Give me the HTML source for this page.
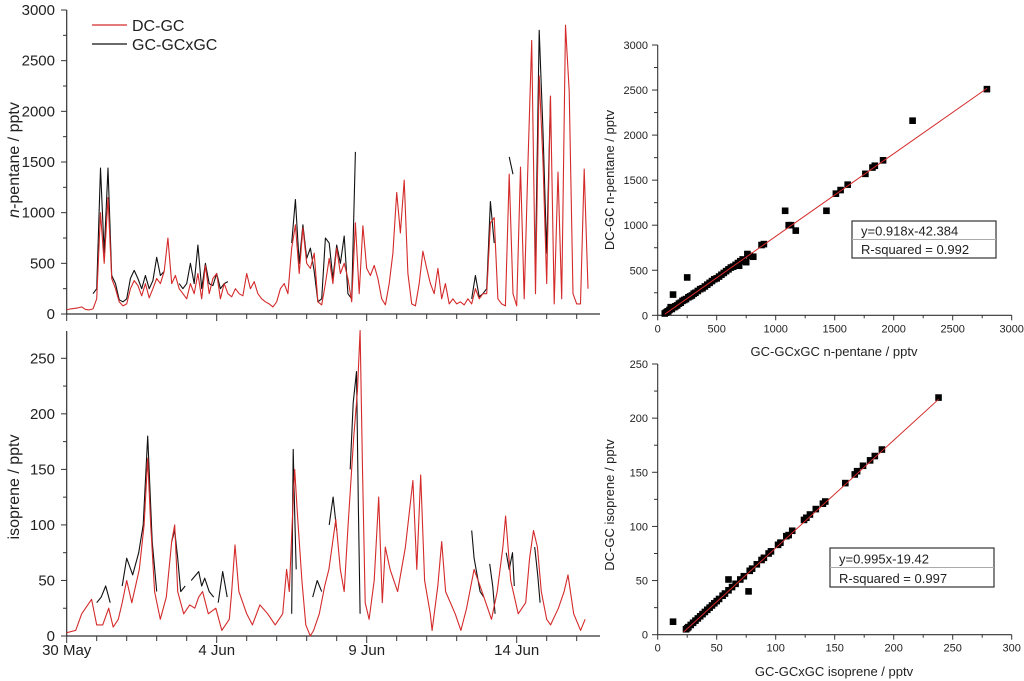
<!DOCTYPE html>
<html><head><meta charset="utf-8"><style>
html,body{margin:0;padding:0;background:#fff;}
svg{display:block;font-family:"Liberation Sans",Arial,sans-serif;}
</style></head><body>
<svg id="chart" width="1024" height="681" viewBox="0 0 1024 681"></svg>
<script>
// ---------- DATA ----------
const pentaneStep = 0.125;
const pentaneDC = [40,50,55,60,70,45,40,50,
150,1000,500,1150,350,250,120,80,
100,250,330,280,180,300,160,250,
350,300,420,750,300,380,250,200,
150,300,200,400,150,480,200,350,
400,150,300,200,170,250,200,180,
400,250,320,200,150,120,100,70,
120,250,300,200,650,880,400,850,
500,450,600,120,90,300,550,300,
650,400,500,350,120,900,200,870,
450,380,480,350,150,90,300,600,
1200,800,1320,400,100,80,300,620,
450,300,200,450,150,300,100,150,
100,120,90,150,100,250,150,200,
200,900,950,150,100,80,1380,200,
80,1450,150,1500,2700,200,2350,1500,
300,2150,100,1400,150,2850,2200,200,
100,100,1430,250];
const pentaneGC = [null,null,null,null,null,null,null,200,
250,1440,600,1440,380,300,140,120,
150,350,430,350,250,380,250,330,
560,380,420,null,null,null,300,250,
300,500,300,680,250,500,300,280,
400,250,300,320,null,null,null,null,
null,null,null,null,null,null,null,null,
null,null,null,null,700,1130,500,880,
550,650,420,120,150,750,700,350,
680,500,770,200,150,1600,null,null,
null,null,null,null,null,null,null,null,
null,null,null,null,null,null,null,null,
null,null,null,null,null,null,null,null,
null,null,null,null,150,380,170,200,
250,1110,700,null,null,null,1550,1380,
null,null,null,null,null,500,2800,1800,
600,2150,null,null,null,null,null,null,
null,null,null,null];
const isoDCTimes = [0,0.3,0.5,0.83,1.0,1.2,1.4,1.55,1.72,1.85,2.0,2.17,2.42,2.58,2.7,2.8,2.93,3.12,3.32,3.5,3.6,3.7,3.9,4.1,4.27,4.4,4.53,4.72,4.97,5.17,5.42,5.5,5.61,5.74,6.0,6.19,6.44,6.7,6.95,7.2,7.33,7.42,7.53,7.6,7.69,7.84,7.97,8.12,8.23,8.42,8.6,8.74,8.97,9.12,9.25,9.38,9.57,9.69,9.78,9.86,9.95,10.08,10.25,10.4,10.52,10.62,10.78,11.03,11.29,11.54,11.67,11.8,11.93,12.12,12.18,12.37,12.5,12.63,12.95,13.14,13.33,13.58,13.78,13.97,14.16,14.35,14.54,14.63,14.8,15.05,15.3,15.43,15.56,15.69,15.82,16.0,16.13,16.39,16.58,16.71,16.9,17.13,17.28];
const isoDC = [3,5,20,33,10,10,25,8,15,30,50,30,60,100,160,100,40,15,35,85,100,40,20,28,25,35,40,20,25,5,15,40,82,40,20,10,28,20,10,20,60,40,110,150,110,50,10,0,5,20,45,60,105,60,40,100,180,220,275,150,30,15,50,125,30,80,60,40,80,140,60,145,50,20,5,45,85,40,20,5,25,60,45,30,15,40,80,108,50,20,30,70,95,80,40,15,10,25,40,55,20,5,15];
const isoGCTimes = [1.0,1.15,1.3,1.45,1.5,1.85,2.0,2.2,2.4,2.55,2.7,2.85,3.0,3.05,3.5,3.6,3.7,3.8,3.95,4.1,4.15,4.4,4.5,4.6,4.75,4.9,5.0,5.05,5.2,5.35,5.5,5.55,7.5,7.55,7.6,7.65,7.75,7.8,8.2,8.35,8.5,8.6,8.75,8.88,9.0,9.1,9.2,9.25,9.45,9.55,9.66,9.72,9.78,9.85,9.9,13.5,13.58,13.68,13.78,13.9,14.05,14.1,14.2,14.28,14.3,14.65,14.75,14.86,14.92,14.95,15.6,15.7,15.78,15.82];
const isoGC = [30,35,45,30,null,45,70,55,75,100,180,85,40,null,85,95,70,40,45,null,50,58,45,52,40,35,null,30,58,35,null,null,20,168,110,60,null,null,35,50,40,null,100,125,95,null,95,null,150,210,238,120,20,null,null,95,70,55,40,35,null,65,45,20,null,75,60,75,45,null,80,55,30,null];
// scatter
const pentX = [60,70,80,90,100,110,120,130,140,150,165,180,195,210,225,240,250,260,275,290,305,320,340,360,380,400,420,440,460,480,500,520,540,560,580,600,620,640,660,680,690,700,720,750,760,780,810,880,900,1080,1110,1130,1170,1430,1510,1550,1610,1760,1820,1840,1910,2160,2790];
const pentY = [20,30,40,45,60,90,70,230,90,100,110,130,140,160,170,180,420,200,210,220,240,250,270,290,300,320,340,360,380,400,410,430,450,470,490,510,530,540,560,580,550,600,620,590,680,660,650,780,790,1160,1000,1000,940,1160,1350,1390,1450,1570,1640,1660,1720,2160,2510];
const isoX = [13,24,25,26,28,30,32,34,36,38,40,42,44,46,48,50,52,55,57,60,60,63,66,70,73,77,78,80,84,88,90,94,96,102,104,109,111,114,124,126,129,134,140,142,159,167,169,174,180,184,190,238];
const isoY = [12,5,6,7,9,11,13,15,17,19,21,23,25,27,29,31,33,36,38,41,51,44,47,51,54,40,59,61,65,69,71,75,77,83,85,91,92,96,106,108,111,116,121,123,140,148,151,156,161,165,171,219];
const pentFit = [0.918, -42.384];
const pentFitRange = [60, 2790];
const isoFit = [0.995, -19.42];
const isoFitRange = [22, 238];
const dayTicks = [0,5,10,15];
const dayTickLabels = ["30 May","4 Jun","9 Jun","14 Jun"];
const pentTicks = [0,500,1000,1500,2000,2500,3000];
const isoTicks = [0,50,100,150,200,250];
const scPentTicks = [0,500,1000,1500,2000,2500,3000];
const scIsoXTicks = [0,50,100,150,200,250,300];
const scIsoYTicks = [0,50,100,150,200,250];

// ---------- helpers ----------
const svg = document.getElementById('chart');
const NS = 'http://www.w3.org/2000/svg';
function mk(tag, attrs, parent){
  const e = document.createElementNS(NS, tag);
  for (const k in attrs) e.setAttribute(k, attrs[k]);
  (parent||svg).appendChild(e);
  return e;
}
function lin(d0,d1,r0,r1){ return v => r0 + (v-d0)/(d1-d0)*(r1-r0); }

// time-series axes
const tx = lin(0, 1, 66.7, 96.7);
const yPent = lin(0, 3000, 314, 10);
const yIso = lin(0, 250, 636, 358.3);

function tsAxis(name, yScale, ticks, minorStep, yTop, yBase, showLabels){
  const g = mk('g', {});
  
  
  mk('line', {x1:66.7,y1:yTop,x2:66.7,y2:yBase,stroke:'#333','stroke-width':1.2}, g);
  mk('line', {x1:66.7,y1:yBase,x2:600,y2:yBase,stroke:'#333','stroke-width':1.2}, g);
  ticks.forEach(v=>{
    const y = yScale(v);
    mk('line',{x1:61,y1:y,x2:66.7,y2:y,stroke:'#333'},g);
    const t = mk('text',{x:55,y:y+5,'text-anchor':'end','font-size':15,fill:'#222'},g);
    t.textContent = v;
  });
  for (let v = minorStep; v < ticks[ticks.length-1]; v += minorStep*2){
    const y = yScale(v);
    mk('line',{x1:63,y1:y,x2:66.7,y2:y,stroke:'#333'},g);
  }
  for (let d = 0; d <= 17; d++){
    const x = tx(d);
    const major = d % 5 === 0;
    mk('line',{x1:x,y1:yBase,x2:x,y2:yBase+(major?7:5),stroke:'#333'},g);
  }
  if (showLabels){
    dayTicks.forEach((d,i)=>{
      const t = mk('text',{x:tx(d),y:yBase+19,'text-anchor':'middle','font-size':15,fill:'#222'},g);
      t.textContent = dayTickLabels[i];
    });
  }
}
tsAxis('pentane-axes', yPent, pentTicks, 250, 10, 314, false);
tsAxis('isoprene-axes', yIso, isoTicks, 25, 331, 636, true);

function seriesPath(times, vals, yScale, color){
  let d = '', pen = false;
  for (let i=0;i<vals.length;i++){
    if (vals[i] === null){ pen = false; continue; }
    const x = tx(times[i]), y = yScale(vals[i]);
    d += (pen ? 'L' : 'M') + x.toFixed(1) + ',' + y.toFixed(1);
    pen = true;
  }
  return mk('path',{d:d,fill:'none',stroke:color,'stroke-width':1.1,'stroke-linejoin':'round'});
}
const pentTimes = pentaneDC.map((_,i)=>i*pentaneStep);
let p;
p = seriesPath(pentTimes, pentaneGC, yPent, '#111');


p = seriesPath(pentTimes, pentaneDC, yPent, '#d42a2a');


p = seriesPath(isoGCTimes, isoGC, yIso, '#111');


p = seriesPath(isoDCTimes, isoDC, yIso, '#d42a2a');



// axis titles
let t;
t = mk('text',{transform:'translate(19,160) rotate(-90)','text-anchor':'middle','font-size':16,fill:'#222'});
t.innerHTML = '<tspan font-style="italic">n</tspan>-pentane / pptv';


t = mk('text',{transform:'translate(19,487) rotate(-90)','text-anchor':'middle','font-size':16,fill:'#222'});
t.textContent = 'isoprene / pptv';



// legend
const lg = mk('g',{});


const le1 = mk('g',{},lg);


mk('line',{x1:92,y1:25,x2:127,y2:25,stroke:'#d42a2a','stroke-width':1.3},le1);
t = mk('text',{x:132,y:31,'font-size':16,fill:'#222'},le1); t.textContent='DC-GC';
const le2 = mk('g',{},lg);


mk('line',{x1:92,y1:44,x2:127,y2:44,stroke:'#111','stroke-width':1.3},le2);
t = mk('text',{x:132,y:50,'font-size':16,fill:'#222'},le2); t.textContent='GC-GCxGC';

// ---------- scatter ----------
function scatter(name, xs, ys, xTicks, yTicks, xMax, yMax, y0px, yTopPx, fit, fitRange, box, xTitle, xTitleY, yTitle, yTitleY, fitTxt){
  const sx = lin(0, xMax, 657.7, 1011.7);
  const sy = lin(0, yMax, y0px, yTopPx);
  const g = mk('g',{});
  
  
  mk('line',{x1:657.7,y1:yTopPx,x2:657.7,y2:y0px,stroke:'#333','stroke-width':1.1},g);
  mk('line',{x1:657.7,y1:y0px,x2:1011.7,y2:y0px,stroke:'#333','stroke-width':1.1},g);
  xTicks.forEach((v,i)=>{
    const x = sx(v);
    mk('line',{x1:x,y1:y0px,x2:x,y2:y0px+5,stroke:'#333'},g);
    if (i < xTicks.length-1){
      const xm = sx(v + (xTicks[1]-xTicks[0])/2);
      mk('line',{x1:xm,y1:y0px,x2:xm,y2:y0px+3,stroke:'#333'},g);
    }
    const tt = mk('text',{x:x,y:y0px+17,'text-anchor':'middle','font-size':11,fill:'#222'},g);
    tt.textContent = v;
  });
  yTicks.forEach((v,i)=>{
    const y = sy(v);
    mk('line',{x1:652,y1:y,x2:657.7,y2:y,stroke:'#333'},g);
    if (i < yTicks.length-1){
      const ym = sy(v + (yTicks[1]-yTicks[0])/2);
      mk('line',{x1:654,y1:ym,x2:657.7,y2:ym,stroke:'#333'},g);
    }
    const tt = mk('text',{x:648,y:y+4,'text-anchor':'end','font-size':11,fill:'#222'},g);
    tt.textContent = v;
  });
  const pts = mk('g',{},g);
  
  
  xs.forEach((v,i)=>{
    const r = mk('rect',{x:sx(v)-3.3,y:sy(ys[i])-3.3,width:6.6,height:6.6,fill:'#000'},pts);
    
    
  });
  const fl = mk('line',{x1:sx(fitRange[0]),y1:sy(fit[0]*fitRange[0]+fit[1]),x2:sx(fitRange[1]),y2:sy(fit[0]*fitRange[1]+fit[1]),stroke:'#d42a2a','stroke-width':1},g);
  
  
  const bx = mk('g',{},g);
  
  
  mk('rect',{x:box[0],y:box[1],width:box[2],height:box[3],fill:'#fff',stroke:'#333','stroke-width':1.2},bx);
  mk('line',{x1:box[0],y1:box[1]+box[3]/2,x2:box[0]+box[2],y2:box[1]+box[3]/2,stroke:'#aaa'},bx);
  let tt = mk('text',{x:box[0]+9,y:box[1]+box[3]/2-4,'font-size':13,fill:'#222'},bx); tt.textContent = fitTxt[0];
  tt = mk('text',{x:box[0]+9,y:box[1]+box[3]-4,'font-size':13,fill:'#222'},bx); tt.textContent = fitTxt[1];
  tt = mk('text',{x:834,y:xTitleY,'text-anchor':'middle','font-size':13,fill:'#222'},g);
  tt.textContent = xTitle;
  
  
  tt = mk('text',{transform:'translate(614,'+yTitleY+') rotate(-90)','text-anchor':'middle','font-size':13,fill:'#222'},g);
  tt.textContent = yTitle;
  
  
}
scatter('pentane-scatter', pentX, pentY, scPentTicks, scPentTicks, 3000, 3000, 315.3, 45, pentFit, pentFitRange,
  [852,221,144,37], 'GC-GCxGC n-pentane / pptv', 356, 'DC-GC n-pentane / pptv', 180, ['y=0.918x-42.384','R-squared = 0.992']);
scatter('isoprene-scatter', isoX, isoY, scIsoXTicks, scIsoYTicks, 300, 250, 634.7, 364, isoFit, isoFitRange,
  [830,548,164,39], 'GC-GCxGC isoprene / pptv', 676, 'DC-GC isoprene / pptv', 505, ['y=0.995x-19.42','R-squared = 0.997']);
</script>
</body></html>
